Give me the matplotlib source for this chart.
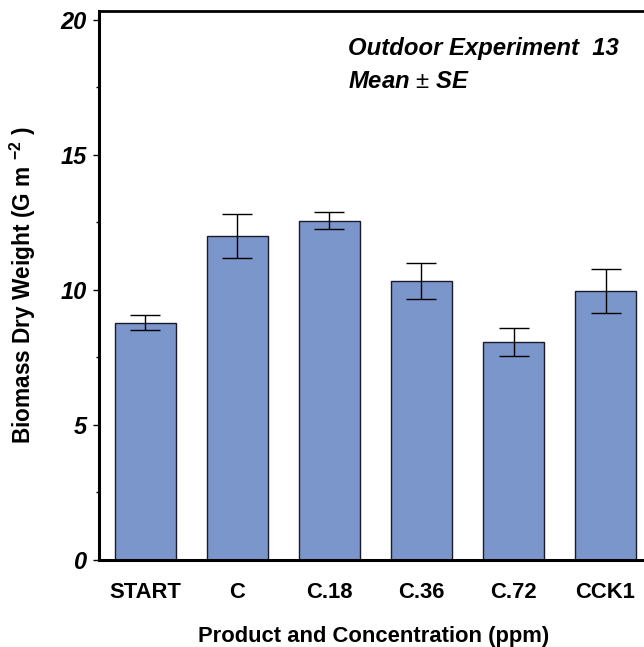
import matplotlib.pyplot as plt
from matplotlib.ticker import MultipleLocator

# Biomass per treatment (mean and standard error)
treatments = ["START", "C", "C.18", "C.36", "C.72", "CCK1"]
biomass_mean = [8.78, 12.0, 12.56, 10.34, 8.07, 9.97]
biomass_se = [0.28, 0.81, 0.32, 0.67, 0.51, 0.82]

plt.rcParams["font.family"] = ["Liberation Sans", "DejaVu Sans"]
plt.rcParams["mathtext.fontset"] = "custom"
plt.rcParams["mathtext.rm"] = "Liberation Sans"
plt.rcParams["mathtext.it"] = "Liberation Sans:italic:bold"
plt.rcParams["mathtext.bf"] = "Liberation Sans:bold"

fig = plt.figure(figsize=(6.44, 6.47), dpi=100)
ax = fig.add_axes([0.1537, 0.1345, 0.8587, 0.8485])

x = range(len(treatments))
ax.bar(x, biomass_mean, width=0.66, color="#7b96cb", edgecolor="#1a1a2a",
       linewidth=1.0, zorder=2)
ax.errorbar(x, biomass_mean, yerr=biomass_se, fmt="none", ecolor="black",
            elinewidth=1.0, capsize=11, capthick=1.0, zorder=3)

ax.set_xlim(-0.505, 5.505)
ax.set_ylim(0, 20.33)
ax.yaxis.set_major_locator(MultipleLocator(5))
ax.yaxis.set_minor_locator(MultipleLocator(2.5))

for side in ["left", "bottom"]:
    ax.spines[side].set_linewidth(2.2)
ax.spines["top"].set_linewidth(2.0)
ax.spines["right"].set_visible(False)

ax.set_xticks(list(x))
ax.set_xticklabels(treatments, fontsize=15.8, fontweight="bold")
ax.tick_params(axis="x", length=0, pad=16)
ax.tick_params(axis="y", which="major", length=4, width=1, pad=5,
               labelsize=17)
ax.tick_params(axis="y", which="minor", length=2, width=1)
for lbl in ax.get_yticklabels():
    lbl.set_fontweight("bold")
    lbl.set_fontstyle("italic")

ax.set_xlabel("Product and Concentration (ppm)", fontsize=15.8,
              fontweight="bold")
ax.xaxis.set_label_coords(0.497, -0.12)
ax.set_ylabel(r"Biomass Dry Weight (G m $^{\mathbf{-2}}$ )", fontsize=16.3,
              fontweight="bold")
ax.yaxis.set_label_coords(-0.11, 0.5)

ax.text(0.45, 0.92, "Outdoor Experiment  13", transform=ax.transAxes,
        fontsize=17.2, fontweight="bold", fontstyle="italic", va="baseline")
ax.text(0.45, 0.86, r"Mean $\pm$ SE", transform=ax.transAxes,
        fontsize=17.2, fontweight="bold", fontstyle="italic", va="baseline")

fig.savefig("out.png", dpi=100)
